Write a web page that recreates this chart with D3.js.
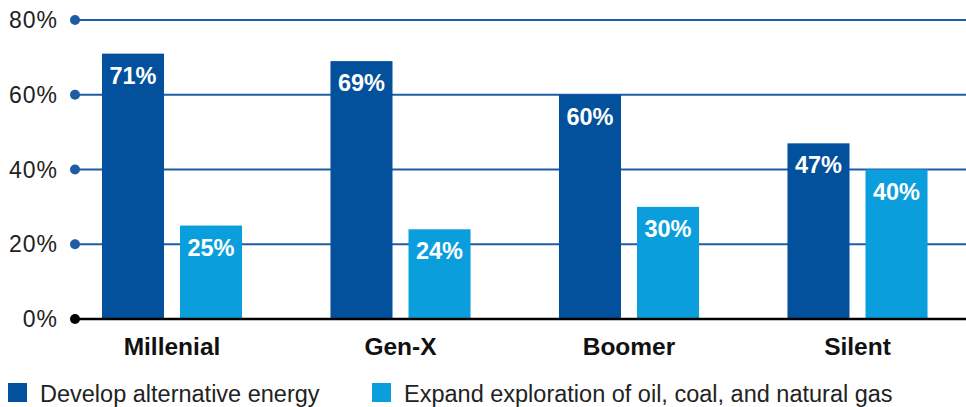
<!DOCTYPE html>
<html>
<head>
<meta charset="utf-8">
<script src="https://cdn.jsdelivr.net/npm/d3@7"></script>
<style>
  body { margin: 0; background: #fff; }
  svg { display: block; font-family: "Liberation Sans", Arial, sans-serif; }
</style>
</head>
<body>
<div id="chart"></div>
<script>
var categories = ["Millenial", "Gen-X", "Boomer", "Silent"]
var seriesNames = ["Develop alternative energy", "Expand exploration of oil, coal, and natural gas"]
var alternative = [71, 69, 60, 47]
var exploration = [25, 24, 30, 40]
var yTicks = [0, 20, 40, 60, 80]

var w = 966
var h = 407
var colors = ["#03509c", "#0a9fdc"]

var data = categories.map((c, i) => ({cat: c, values: [alternative[i], exploration[i]]}))

var svg = d3.select("#chart").append("svg")
  .attr("width", w)
  .attr("height", h)

var x0 = 75
var yScale = d3.scaleLinear().domain([0, 80]).range([319, 20])

var step = 228.5
var xScale = d3.scaleBand()
  .domain(categories)
  .range([57.75, 57.75 + 4 * step])
  .paddingInner(0.387)
  .paddingOuter(0.1935)

var xSub = d3.scaleBand()
  .domain([0, 1])
  .range([0, xScale.bandwidth()])
  .paddingInner(0.205)

// gridlines
var grid = svg.append("g")
grid.selectAll("line")
  .data(yTicks.filter(d => d > 0))
  .enter().append("line")
  .attr("x1", x0).attr("x2", w)
  .attr("y1", d => yScale(d)).attr("y2", d => yScale(d))
  .attr("stroke", "#1f5ca6")
  .attr("stroke-width", 2)

grid.selectAll("circle")
  .data(yTicks)
  .enter().append("circle")
  .attr("cx", x0)
  .attr("cy", d => yScale(d))
  .attr("r", 5)
  .attr("fill", d => d === 0 ? "#000" : "#1f5ca6")

grid.selectAll("text")
  .data(yTicks)
  .enter().append("text")
  .attr("x", 58)
  .attr("y", d => yScale(d) + 8)
  .attr("text-anchor", "end")
  .attr("font-size", 23)
  .attr("letter-spacing", 1)
  .attr("fill", "#222")
  .text(d => d + "%")

// bars
var groups = svg.append("g").selectAll("g")
  .data(data)
  .enter().append("g")
  .attr("transform", d => "translate(" + xScale(d.cat) + ",0)")

groups.selectAll("rect")
  .data(d => d.values)
  .enter().append("rect")
  .attr("x", (d, i) => xSub(i))
  .attr("y", d => yScale(d))
  .attr("width", xSub.bandwidth())
  .attr("height", d => yScale(0) - yScale(d))
  .attr("fill", (d, i) => colors[i])

groups.selectAll("text")
  .data(d => d.values)
  .enter().append("text")
  .attr("x", (d, i) => xSub(i) + xSub.bandwidth() / 2)
  .attr("y", d => yScale(d) + 30)
  .attr("text-anchor", "middle")
  .attr("font-size", 23.5)
  .attr("font-weight", "bold")
  .attr("fill", "#fff")
  .text(d => d + "%")

// zero line
svg.append("line")
  .attr("x1", x0).attr("x2", w)
  .attr("y1", yScale(0)).attr("y2", yScale(0))
  .attr("stroke", "#000")
  .attr("stroke-width", 2.5)

// category labels
svg.append("g").selectAll("text")
  .data(categories)
  .enter().append("text")
  .attr("x", d => xScale(d) + xScale.bandwidth() / 2)
  .attr("y", 355)
  .attr("text-anchor", "middle")
  .attr("font-size", 24.5)
  .attr("font-weight", "bold")
  .attr("fill", "#111")
  .text(d => d)

// legend
var legendX = [8, 372]
var legend = svg.append("g").selectAll("g")
  .data(seriesNames)
  .enter().append("g")
  .attr("transform", (d, i) => "translate(" + legendX[i] + ",383)")

legend.append("rect")
  .attr("width", 19).attr("height", 19)
  .attr("fill", (d, i) => colors[i])

legend.append("text")
  .attr("x", 32)
  .attr("y", 19)
  .attr("font-size", 23.5)
  .attr("fill", "#222")
  .text(d => d)
</script>
</body>
</html>
